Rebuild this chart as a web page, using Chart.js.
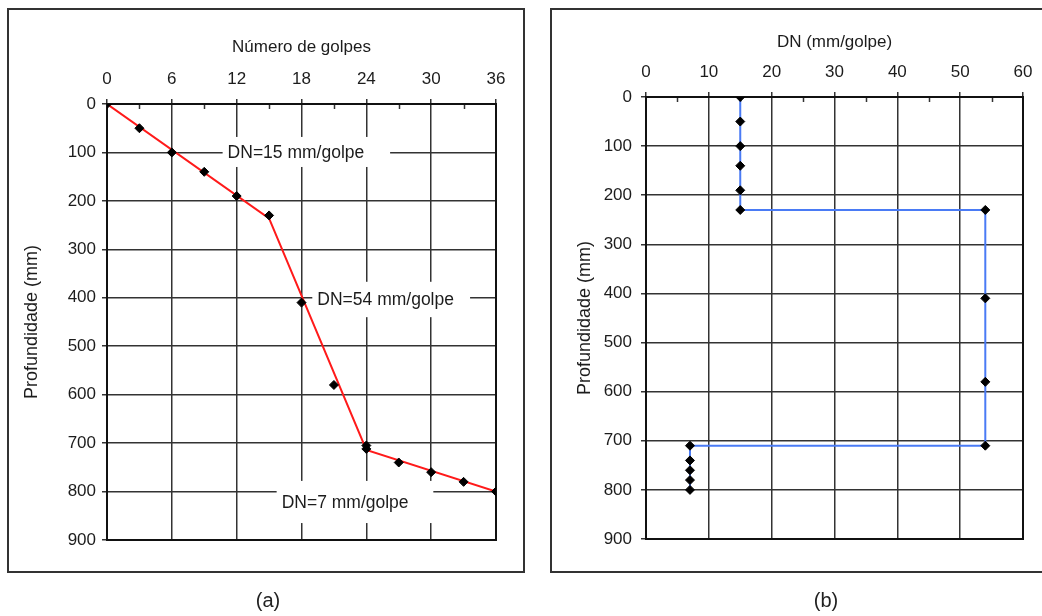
<!DOCTYPE html>
<html>
<head>
<meta charset="utf-8">
<script src="https://cdn.jsdelivr.net/npm/chart.js@4/dist/chart.umd.min.js"></script>
<style>
  html, body { margin: 0; padding: 0; background: #fff; }
  body { width: 1042px; height: 616px; position: relative; overflow: hidden; font-family: "Liberation Sans", Arial, sans-serif; }
  .frame { position: absolute; box-sizing: border-box; border: 2px solid #333; }
  canvas { position: absolute; top: 0; }
  .cap { position: absolute; top: 589px; font-size: 20px; color: #222; transform: translateX(-50%); }
</style>
</head>
<body>
<div class="frame" style="left:7px;top:8px;width:518px;height:565px;"></div>
<div class="frame" style="left:550px;top:8px;width:520px;height:565px;"></div>
<canvas id="chartA" width="530" height="616" style="left:0px;"></canvas>
<canvas id="chartB" width="512" height="616" style="left:530px;"></canvas>
<div class="cap" style="left:268px;">(a)</div>
<div class="cap" style="left:826px;">(b)</div>
<script>
// (a) penetration curve: blows vs depth
const blows = [0, 3, 6, 9, 12, 15, 18, 21, 24, 24, 27, 30, 33, 36];
const depthA = [0, 50, 100, 140, 190, 230, 410, 580, 705, 712, 740, 760, 780, 800];
// piecewise trend line (three layers)
const trendBlows = [0, 15, 24, 36];
const trendDepth = [0, 236, 714, 800];
const blowTicks = [0, 6, 12, 18, 24, 30, 36];

// (b) penetration index per reading
const dnValues = [15, 15, 15, 15, 15, 15, 54, 54, 54, 54, 7, 7, 7, 7, 7];
const depthB = [0, 50, 100, 140, 190, 230, 230, 410, 580, 710, 710, 740, 760, 780, 800];
const dnTicks = [0, 10, 20, 30, 40, 50, 60];
const depthTicks = [0, 100, 200, 300, 400, 500, 600, 700, 800, 900];

// layer labels: text, box extent in data units
const layerLabels = [
  { text: 'DN=15 mm/golpe', x0: 10.7, x1: 26.2, y0: 68, y1: 130 },
  { text: 'DN=54 mm/golpe', x0: 19.0, x1: 33.6, y0: 367, y1: 440 },
  { text: 'DN=7 mm/golpe',  x0: 15.7, x1: 30.2, y0: 778, y1: 865 }
];

const FONT = '"Liberation Sans", Arial, sans-serif';
const INK = '#1c1c1c';
const GRID = '#333';
const TICK_SIZE = 17;

const toXY = (xs, ys) => xs.map((x, i) => ({ x, y: ys[i] }));

const framePlugin = {
  id: 'plotFrame',
  beforeDatasetsDraw(chart, args, opts) {
    const { ctx, chartArea: a, scales } = chart;
    ctx.save();
    // layer label boxes
    (opts.labels || []).forEach(l => {
      const x0 = scales.x.getPixelForValue(l.x0), x1 = scales.x.getPixelForValue(l.x1);
      const y0 = scales.y.getPixelForValue(l.y0), y1 = scales.y.getPixelForValue(l.y1);
      ctx.fillStyle = '#fff';
      ctx.fillRect(x0, y0, x1 - x0, y1 - y0);
      ctx.fillStyle = INK;
      ctx.font = '17.5px ' + FONT;
      ctx.textAlign = 'left';
      ctx.textBaseline = 'middle';
      ctx.fillText(l.text, x0 + 5, (y0 + y1) / 2 + 1);
    });
    // minor ticks along the top axis
    ctx.strokeStyle = GRID;
    ctx.lineWidth = 1.5;
    const ticks = scales.x.ticks;
    for (let i = 0; i < ticks.length - 1; i++) {
      const xm = Math.round(scales.x.getPixelForValue((ticks[i].value + ticks[i + 1].value) / 2)) + 0.5;
      ctx.beginPath();
      ctx.moveTo(xm, a.top);
      ctx.lineTo(xm, a.top + 5);
      ctx.stroke();
    }
    // plot-area outline
    ctx.strokeStyle = '#111';
    ctx.lineWidth = 2;
    ctx.strokeRect(a.left, a.top, a.right - a.left, a.bottom - a.top);
    ctx.restore();
  }
};

function makeOptions(cfg) {
  return {
    responsive: false,
    animation: false,
    devicePixelRatio: 1,
    layout: { padding: cfg.padding },
    plugins: {
      legend: { display: false },
      tooltip: { enabled: false },
      plotFrame: { labels: cfg.labels || [] }
    },
    scales: {
      x: {
        type: 'linear',
        position: 'top',
        min: cfg.xTicks[0],
        max: cfg.xTicks[cfg.xTicks.length - 1],
        afterBuildTicks: s => { s.ticks = cfg.xTicks.map(v => ({ value: v })); },
        afterFit: s => { s.height = cfg.xHeight; },
        ticks: { color: INK, font: { family: FONT, size: TICK_SIZE }, padding: 9, maxRotation: 0 },
        grid: { color: GRID, lineWidth: 1.5, tickLength: 5, tickColor: GRID },
        border: { display: true, color: '#111', width: 2 },
        title: { display: true, text: cfg.xTitle, color: INK, font: { family: FONT, size: 17 }, padding: { top: cfg.xTitlePad, bottom: 0 } }
      },
      y: {
        type: 'linear',
        reverse: true,
        min: 0,
        max: 900,
        afterBuildTicks: s => { s.ticks = depthTicks.map(v => ({ value: v })); },
        afterFit: s => { s.width = cfg.yWidth; },
        ticks: { color: INK, font: { family: FONT, size: TICK_SIZE }, padding: cfg.yLabelPad },
        grid: { color: GRID, lineWidth: 1.5, tickLength: 5, tickColor: GRID },
        border: { display: true, color: '#111', width: 2 },
        title: { display: true, text: 'Profundidade (mm)', color: INK, font: { family: FONT, size: 18 }, padding: { top: cfg.yTitlePad, bottom: 0 } }
      }
    }
  };
}

const pointStyle = {
  showLine: false,
  pointStyle: 'rectRot',
  pointRadius: 4.5,
  pointBackgroundColor: '#000',
  pointBorderColor: '#000',
  pointBorderWidth: 1
};

new Chart(document.getElementById('chartA'), {
  type: 'scatter',
  data: {
    datasets: [
      Object.assign({ data: toXY(blows, depthA) }, pointStyle),
      {
        data: toXY(trendBlows, trendDepth),
        showLine: true,
        borderColor: '#ff1a1a',
        borderWidth: 2,
        pointRadius: 0
      }
    ]
  },
  options: makeOptions({
    padding: { left: 0, top: 0, right: 34, bottom: 76 },
    xTicks: blowTicks,
    xTitle: 'Número de golpes',
    xHeight: 104,
    xTitlePad: 37,
    yWidth: 107,
    yLabelPad: 6,
    yTitlePad: 21,
    labels: layerLabels
  }),
  plugins: [framePlugin]
});

new Chart(document.getElementById('chartB'), {
  type: 'scatter',
  data: {
    datasets: [
      {
        data: toXY(dnValues, depthB),
        showLine: true,
        borderColor: '#4a7bf5',
        borderWidth: 2,
        pointStyle: 'rectRot',
        pointRadius: 4.5,
        pointBackgroundColor: '#000',
        pointBorderColor: '#000',
        pointBorderWidth: 1
      }
    ]
  },
  options: makeOptions({
    padding: { left: 0, top: 0, right: 19, bottom: 77 },
    xTicks: dnTicks,
    xTitle: 'DN (mm/golpe)',
    xHeight: 97,
    xTitlePad: 32,
    yWidth: 116,
    yLabelPad: 9,
    yTitlePad: 44
  }),
  plugins: [framePlugin]
});
</script>
</body>
</html>
